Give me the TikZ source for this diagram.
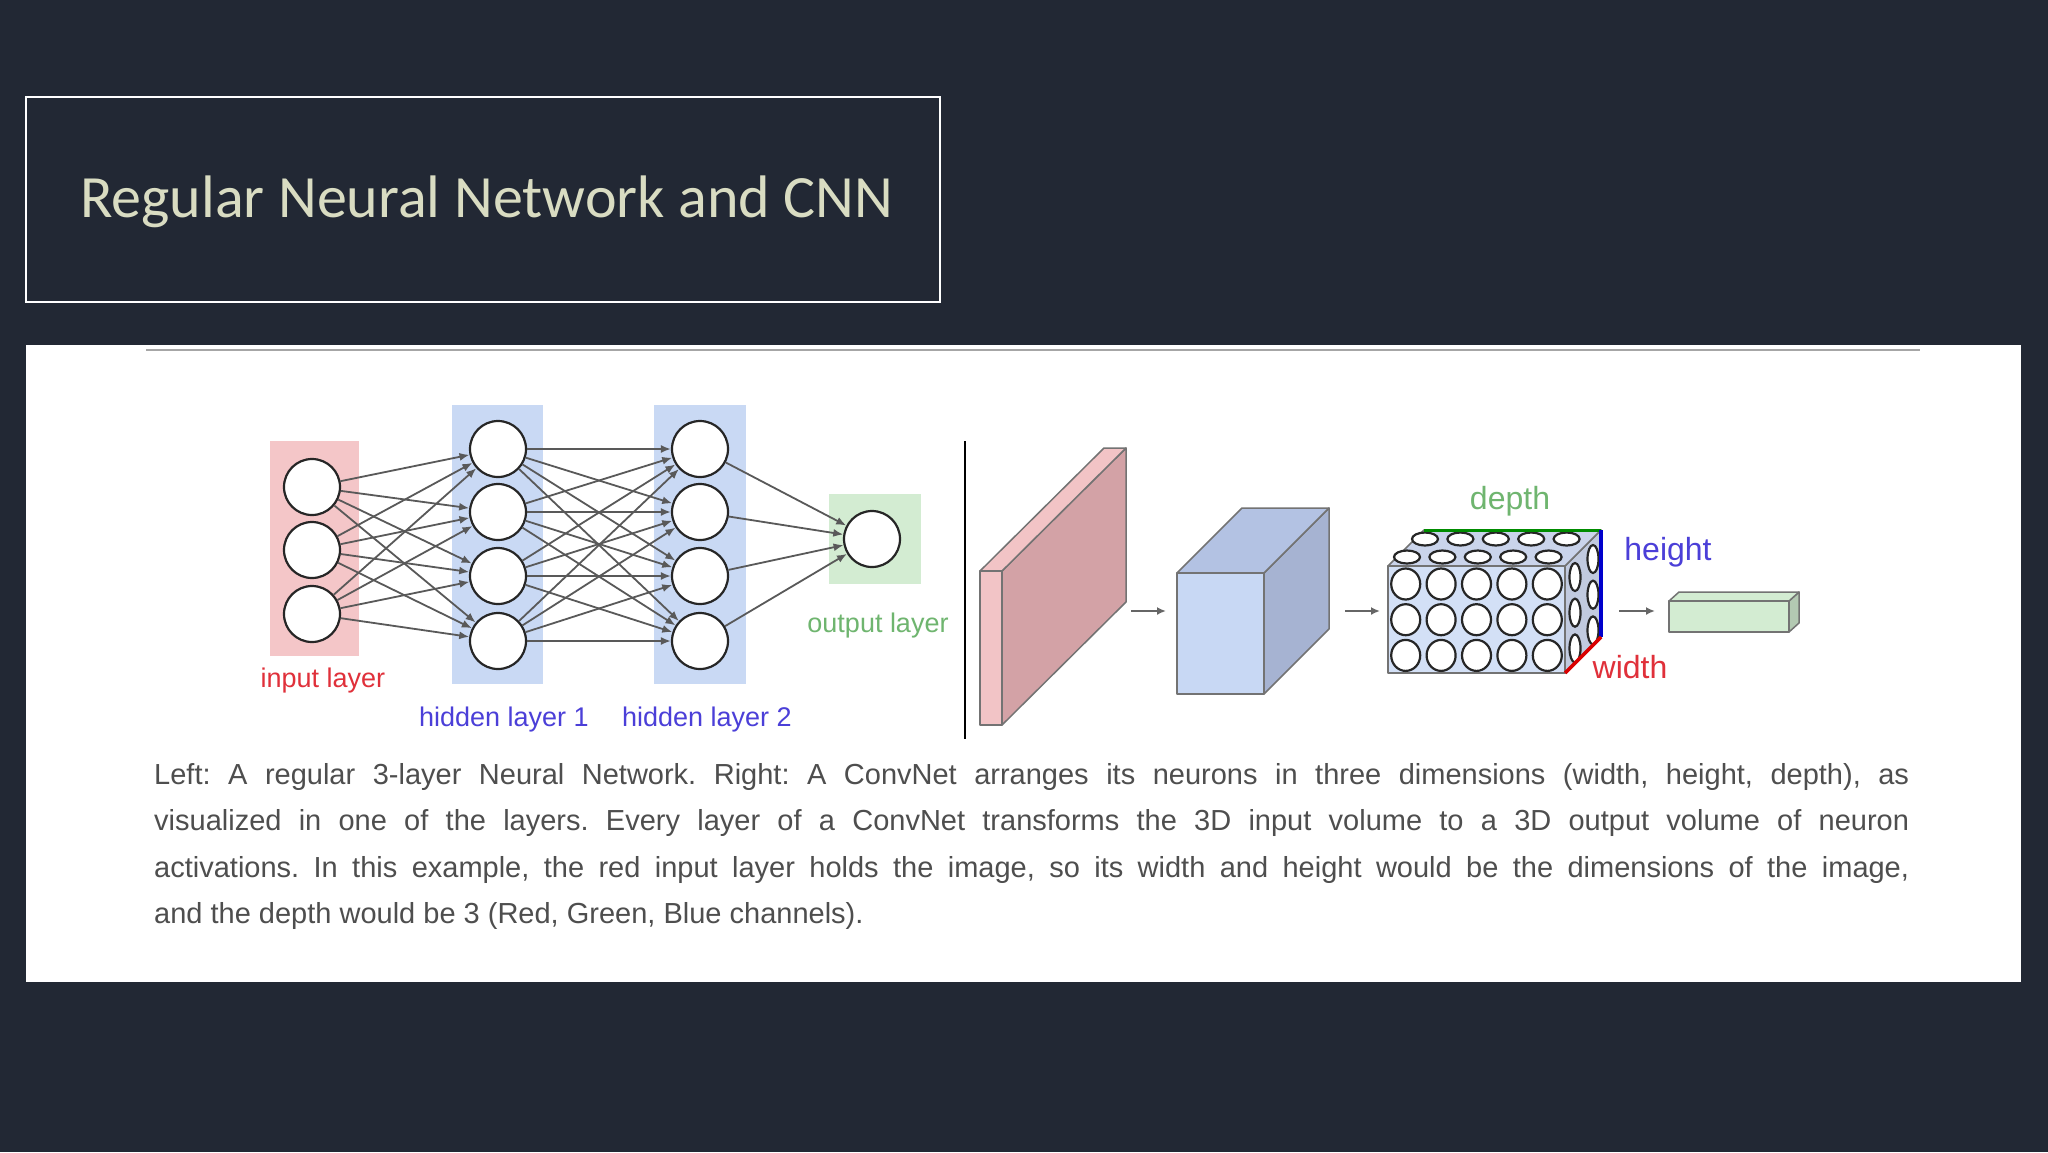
\documentclass[tikz,border=0pt]{standalone}
\usepackage{fontspec}
\setmainfont{Liberation Sans}
\newfontfamily\titlefont{Carlito}
\usetikzlibrary{arrows.meta,shapes.geometric}
\definecolor{bgdark}{HTML}{222834}
\definecolor{titlecol}{HTML}{D9DCC2}
\definecolor{pinkf}{HTML}{F4C6C8}
\definecolor{bluef}{HTML}{C9D9F4}
\definecolor{greenf}{HTML}{D3ECD2}
\definecolor{redt}{HTML}{E0303A}
\definecolor{bluet}{HTML}{4B3FD8}
\definecolor{greent}{HTML}{6FB56F}
\definecolor{slabA}{HTML}{F2C4C6}
\definecolor{slabB}{HTML}{D3A2A6}
\definecolor{cubeA}{HTML}{C8D8F4}
\definecolor{cubeB}{HTML}{B3C2E3}
\definecolor{cubeC}{HTML}{A6B3D2}
\definecolor{capt}{HTML}{4E4E4E}
\tikzset{
  neuron/.style={circle,draw=black!85,line width=2.2pt,fill=white,minimum size=56pt,inner sep=0pt},
  conn/.style={draw=black!65,line width=1.8pt,-{Latex[length=10pt,width=8pt]}},
  lbl/.style={font=\fontsize{27}{30}\selectfont,inner sep=0pt},
  faceline/.style={draw=black!55,line width=1.5pt,line join=round},
  smallarr/.style={draw=black!60,line width=2pt,-{Latex[length=9pt,width=8pt]}},
  grid cell/.style={ellipse,draw=black!85,line width=2.2pt,fill=white,inner sep=0pt}
}
\begin{document}
\begin{tikzpicture}[x=1pt,y=-1pt]
\fill[bgdark] (0,0) rectangle (2048,1152);
\useasboundingbox (0,0) rectangle (2048,1152);
% title
\node[draw=white,line width=2pt,minimum width=914pt,minimum height=205pt,inner sep=0pt] (titlebox) at (483,199.5) {};
\node[anchor=west,text=titlecol,font=\titlefont\fontsize{60}{64}\selectfont,inner sep=0pt] (title) at (80,202) {Regular Neural Network and CNN};
% panel
\fill[white] (26,345) rectangle (2021,982);
\draw[black!35,line width=2.5pt] (146,350) -- (1920,350);
% layer backgrounds
\fill[pinkf] (270,441) rectangle (359,656);
\fill[bluef] (452,405) rectangle (543,684);
\fill[bluef] (654,405) rectangle (746,684);
\fill[greenf] (829,494) rectangle (921,584);
% neurons
\foreach \i/\y in {1/487,2/550,3/614} \node[neuron] (i\i) at (312,\y) {};
\foreach \i/\y in {1/449,2/512,3/576,4/641} {
  \node[neuron] (a\i) at (498,\y) {};
  \node[neuron] (b\i) at (700,\y) {};
}
\node[neuron] (o) at (872,539) {};
\foreach \i in {1,2,3} \foreach \j in {1,2,3,4} \draw[conn] (i\i) -- (a\j);
\foreach \i in {1,2,3,4} \foreach \j in {1,2,3,4} \draw[conn] (a\i) -- (b\j);
\foreach \i in {1,2,3,4} \draw[conn] (b\i) -- (o);
\node[lbl,text=redt] (linput) at (323,681) {input layer};
\node[lbl,text=bluet] (lh1) at (504,720) {hidden layer 1};
\node[lbl,text=bluet] (lh2) at (707,720) {hidden layer 2};
\node[lbl,text=greent] (lout) at (878,626) {output layer};
% separator
\draw[black,line width=2.5pt] (965,441) -- (965,739);
% pink slab
\filldraw[fill=slabB,faceline] (1002,571) -- (1126,448) -- (1126,602) -- (1002,725) -- cycle;
\filldraw[fill=slabA,faceline] (980,571) -- (1104,448) -- (1126,448) -- (1002,571) -- cycle;
\filldraw[fill=slabA,faceline] (980,571) rectangle (1002,725);
% blue cube
\filldraw[fill=cubeC,faceline] (1264,573) -- (1329,508) -- (1329,629) -- (1264,694) -- cycle;
\filldraw[fill=cubeB,faceline] (1177,573) -- (1242,508) -- (1329,508) -- (1264,573) -- cycle;
\filldraw[fill=cubeA,faceline] (1177,573) rectangle (1264,694);
% arrows
\coordinate (p1) at (1131,611); \coordinate (p2) at (1166,611);
\coordinate (p3) at (1345,611); \coordinate (p4) at (1380,611);
\coordinate (p5) at (1619,611); \coordinate (p6) at (1655,611);
\draw[smallarr] (p1) -- (p2);
\draw[smallarr] (p3) -- (p4);
\draw[smallarr] (p5) -- (p6);
% neuron cube
\filldraw[fill=cubeC!70,faceline] (1565,566) -- (1601,530) -- (1601,637) -- (1565,673) -- cycle;
\filldraw[fill=cubeB!70,faceline] (1388,566) -- (1424,530) -- (1601,530) -- (1565,566) -- cycle;
\filldraw[fill=cubeA!80,faceline] (1388,566) rectangle (1565,673);
\foreach \r in {0,1} \foreach \c in {0,...,4}
  \node[grid cell,minimum width=26pt,minimum height=13pt] at ({1407+35.4*\c+18*(1-\r)},{539+18*\r}) {};
\foreach \c in {0,1} \foreach \r in {0,...,2}
  \node[grid cell,minimum width=11pt,minimum height=28pt] at ({1575+18*\c},{577+35.7*\r-18*\c}) {};
\foreach \r in {0,...,2} \foreach \c in {0,...,4}
  \node[grid cell,minimum width=29pt,minimum height=31pt] at ({1405.7+35.4*\c},{584+35.7*\r}) {};
\coordinate (dA) at (1424,530); \coordinate (dB) at (1601,530);
\coordinate (hB) at (1601,637); \coordinate (wA) at (1565,673);
\draw[green!55!black,line width=3pt] (dA) -- (dB);
\draw[blue!80!black,line width=3.5pt] (dB) -- (hB);
\draw[red!85!black,line width=3.5pt] (hB) -- (wA);
\node[lbl,text=greent,font=\fontsize{32}{34}\selectfont] (ldepth) at (1510,501) {depth};
\node[lbl,text=bluet,font=\fontsize{32}{34}\selectfont] (lheight) at (1668,552) {height};
\node[lbl,text=redt,font=\fontsize{32}{34}\selectfont] (lwidth) at (1630,667) {width};
% green box
\filldraw[fill=greenf!85!black,faceline] (1789,601) -- (1799,592) -- (1799,623) -- (1789,632) -- cycle;
\filldraw[fill=greenf,faceline] (1669,601) -- (1679,592) -- (1799,592) -- (1789,601) -- cycle;
\filldraw[fill=greenf,faceline] (1669,601) rectangle (1789,632);
% caption
\node[anchor=north west,inner sep=0pt,text=capt,font=\fontsize{29}{46.5}\selectfont\frenchspacing,text width=1755pt,align=justify] (cap) at (154,763) {Left: A regular 3-layer Neural Network. Right: A ConvNet arranges its neurons in three dimensions (width, height, depth), as\linebreak visualized in one of the layers. Every layer of a ConvNet transforms the 3D input volume to a 3D output volume of neuron\linebreak activations. In this example, the red input layer holds the image, so its width and height would be the dimensions of the image,\linebreak and the depth would be 3 (Red, Green, Blue channels).};
\end{tikzpicture}
\end{document}
